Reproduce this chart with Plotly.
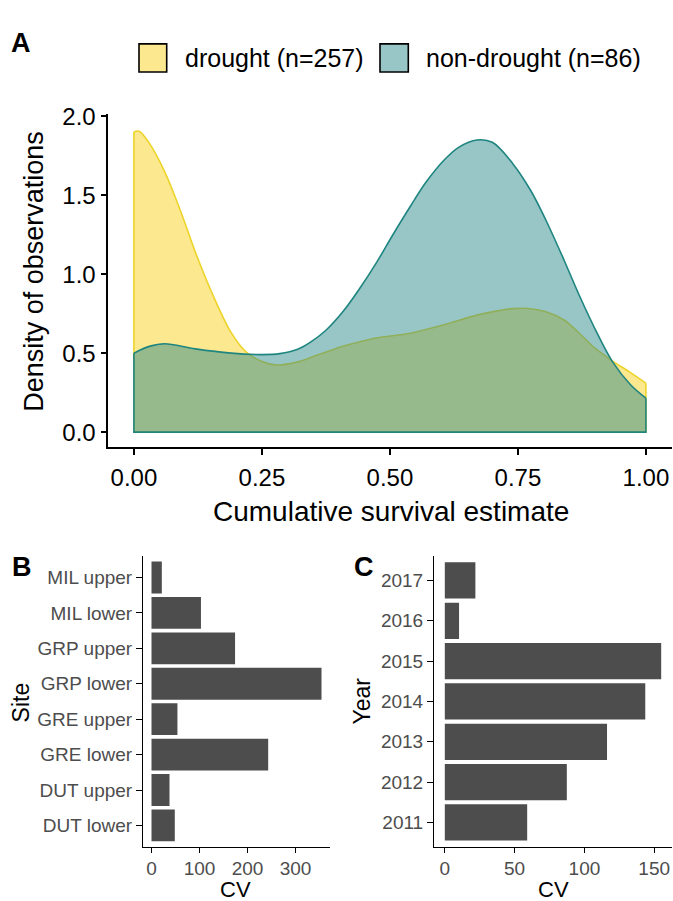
import plotly.graph_objects as go

# ---------------- data ----------------
# Panel A: density curves
drought_x = [0.00, 0.01, 0.03, 0.06, 0.09, 0.12, 0.15, 0.19, 0.22, 0.25, 0.28, 0.32,
             0.36, 0.41, 0.47, 0.54, 0.60, 0.67, 0.71, 0.74, 0.77, 0.805, 0.84, 0.87,
             0.90, 0.935, 0.97, 1.00]
drought_y = [1.90, 1.905, 1.83, 1.65, 1.41, 1.14, 0.90, 0.63, 0.505, 0.448, 0.425, 0.445,
             0.49, 0.545, 0.595, 0.626, 0.675, 0.741, 0.768, 0.782, 0.783, 0.762, 0.71, 0.626,
             0.533, 0.45, 0.377, 0.31]

nondrought_x = [0.00, 0.03, 0.06, 0.12, 0.19, 0.25, 0.285, 0.32, 0.345, 0.375, 0.41, 0.44,
                0.475, 0.505, 0.54, 0.57, 0.605, 0.635, 0.67, 0.70, 0.74, 0.775, 0.805,
                0.84, 0.87, 0.905, 0.935, 0.97, 1.00]
nondrought_y = [0.50, 0.543, 0.56, 0.527, 0.50, 0.491, 0.497, 0.525, 0.57, 0.645, 0.77, 0.905,
                1.08, 1.245, 1.43, 1.58, 1.72, 1.805, 1.85, 1.835, 1.70, 1.53, 1.34,
                1.09, 0.865, 0.625, 0.445, 0.30, 0.215]

legend_labels = ["drought (n=257)", "non-drought (n=86)"]
a_ticks = [0.0, 0.25, 0.5, 0.75, 1.0]
a_ticktext = ["0.00", "0.25", "0.50", "0.75", "1.00"]
a_yticks = [0.0, 0.5, 1.0, 1.5, 2.0]
a_yticktext = ["0.0", "0.5", "1.0", "1.5", "2.0"]

# Panel B: CV by site (bottom to top)
sites = ["DUT lower", "DUT upper", "GRE lower", "GRE upper",
         "GRP lower", "GRP upper", "MIL lower", "MIL upper"]
site_cv = [48.5, 37.5, 243, 54, 354, 174, 103, 21.5]
b_ticks = [0, 100, 200, 300]

# Panel C: CV by year (bottom to top)
years = ["2011", "2012", "2013", "2014", "2015", "2016", "2017"]
year_cv = [59, 87.4, 116.2, 143.6, 155, 10.2, 21.9]
c_ticks = [0, 50, 100, 150]

# ---------------- style ----------------
W, H = 673, 901
FONT = "Liberation Sans, Arial, Helvetica, sans-serif"
D_LINE = "#EDD42A"
D_FILL = "rgba(250,210,32,0.5)"
N_LINE = "#1E8580"
N_FILL = "rgba(49,139,139,0.5)"
BAR = "#4D4D4D"
GREY_TXT = "#4D4D4D"


def px(x):
    return x / W


def py(y):
    return 1 - y / H


fig = go.Figure()

# drought density
fig.add_trace(go.Scatter(x=drought_x, y=drought_y, mode="lines", fill="tozeroy",
                         fillcolor=D_FILL, line=dict(color=D_LINE, width=1.6, shape="spline", smoothing=1.0),
                         xaxis="x", yaxis="y", hoverinfo="skip"))
fig.add_trace(go.Scatter(x=[drought_x[0], drought_x[0], drought_x[-1], drought_x[-1]],
                         y=[drought_y[0], 0, 0, drought_y[-1]], mode="lines",
                         line=dict(color=D_LINE, width=1.6), xaxis="x", yaxis="y", hoverinfo="skip"))
# non-drought density
fig.add_trace(go.Scatter(x=nondrought_x, y=nondrought_y, mode="lines", fill="tozeroy",
                         fillcolor=N_FILL, line=dict(color=N_LINE, width=1.6, shape="spline", smoothing=1.0),
                         xaxis="x", yaxis="y", hoverinfo="skip"))
fig.add_trace(go.Scatter(x=[nondrought_x[0], nondrought_x[0], nondrought_x[-1], nondrought_x[-1]],
                         y=[nondrought_y[0], 0, 0, nondrought_y[-1]], mode="lines",
                         line=dict(color=N_LINE, width=1.6), xaxis="x", yaxis="y", hoverinfo="skip"))

# Panel B bars
fig.add_trace(go.Bar(x=site_cv, y=sites, orientation="h", width=0.9,
                     marker=dict(color=BAR, line=dict(width=0)), xaxis="x2", yaxis="y2"))
# Panel C bars
fig.add_trace(go.Bar(x=year_cv, y=years, orientation="h", width=0.9,
                     marker=dict(color=BAR, line=dict(width=0)), xaxis="x3", yaxis="y3"))

common_axis = dict(showgrid=False, zeroline=False, showline=True, linecolor="black",
                   ticks="outside", tickcolor="black")

fig.update_layout(
    width=W, height=H, margin=dict(l=0, r=0, t=0, b=0),
    paper_bgcolor="white", plot_bgcolor="white", showlegend=False,
    font=dict(family=FONT, color="black"),
    xaxis=dict(domain=[px(108.3), px(671.5)], range=[-0.05, 1.05], anchor="y",
               tickvals=a_ticks, ticktext=a_ticktext, linewidth=1.6, tickwidth=1.6, ticklen=6,
               tickfont=dict(size=24, color="black"), ticklabelstandoff=2, **common_axis),
    yaxis=dict(domain=[py(441.7), py(104)], range=[-0.096, 2.016], anchor="x",
               tickvals=a_yticks, ticktext=a_yticktext, linewidth=1.6, tickwidth=1.6, ticklen=6,
               tickfont=dict(size=24, color="black"), **common_axis),
    xaxis2=dict(domain=[px(143), px(330)], range=[-17.7, 371.7], anchor="y2",
                tickvals=b_ticks, linewidth=1, tickwidth=1, ticklen=5,
                tickfont=dict(size=19, color=GREY_TXT), **common_axis),
    yaxis2=dict(domain=[py(846), py(552)], range=[-0.6, 7.6], anchor="x2", type="category",
                categoryorder="array", categoryarray=sites, linewidth=1, tickwidth=1, ticklen=6,
                tickfont=dict(size=19, color=GREY_TXT), **common_axis),
    xaxis3=dict(domain=[px(434), px(672)], range=[-7.75, 162.75], anchor="y3",
                tickvals=c_ticks, linewidth=1, tickwidth=1, ticklen=5,
                tickfont=dict(size=19, color=GREY_TXT), **common_axis),
    yaxis3=dict(domain=[py(846), py(552)], range=[-0.6, 6.6], anchor="x3", type="category",
                categoryorder="array", categoryarray=years, linewidth=1, tickwidth=1, ticklen=6,
                tickfont=dict(size=19, color=GREY_TXT), **common_axis),
)

# legend (manual)
fig.add_shape(type="rect", xref="paper", yref="paper", x0=px(139), x1=px(166.7),
              y0=py(61.7), y1=py(33.3), line=dict(color="black", width=1.6), fillcolor=D_FILL)
fig.add_shape(type="rect", xref="paper", yref="paper", x0=px(380), x1=px(408.3),
              y0=py(61.7), y1=py(33.3), line=dict(color="black", width=1.6), fillcolor=N_FILL)

annotations = [
    dict(text=legend_labels[0], x=px(183), y=py(48), xanchor="left", yanchor="middle", font=dict(size=25)),
    dict(text=legend_labels[1], x=px(424), y=py(48), xanchor="left", yanchor="middle", font=dict(size=25)),
    dict(text="<b>A</b>", x=px(21), y=py(32), xanchor="center", yanchor="middle", font=dict(size=27)),
    dict(text="<b>B</b>", x=px(22), y=py(563), xanchor="center", yanchor="middle", font=dict(size=27)),
    dict(text="<b>C</b>", x=px(364), y=py(563), xanchor="center", yanchor="middle", font=dict(size=27)),
    dict(text="Cumulative survival estimate", x=px(391), y=py(507), xanchor="center", yanchor="middle",
         font=dict(size=28)),
    dict(text="Density of observations", x=px(34), y=py(264), xanchor="center", yanchor="middle",
         textangle=-90, font=dict(size=27)),
    dict(text="Site", x=px(21), y=py(700), xanchor="center", yanchor="middle", textangle=-90,
         font=dict(size=23)),
    dict(text="CV", x=px(235), y=py(889), xanchor="center", yanchor="middle", font=dict(size=22)),
    dict(text="Year", x=px(362), y=py(699), xanchor="center", yanchor="middle", textangle=-90,
         font=dict(size=23)),
    dict(text="CV", x=px(553), y=py(889), xanchor="center", yanchor="middle", font=dict(size=22)),
]
for a in annotations:
    a.update(xref="paper", yref="paper", showarrow=False)
    fig.add_annotation(**a)

fig.write_html("out.html", config={"displayModeBar": False},
               post_script="document.body.style.margin='0';document.body.style.padding='0';"
                           "document.body.style.overflow='hidden';")
